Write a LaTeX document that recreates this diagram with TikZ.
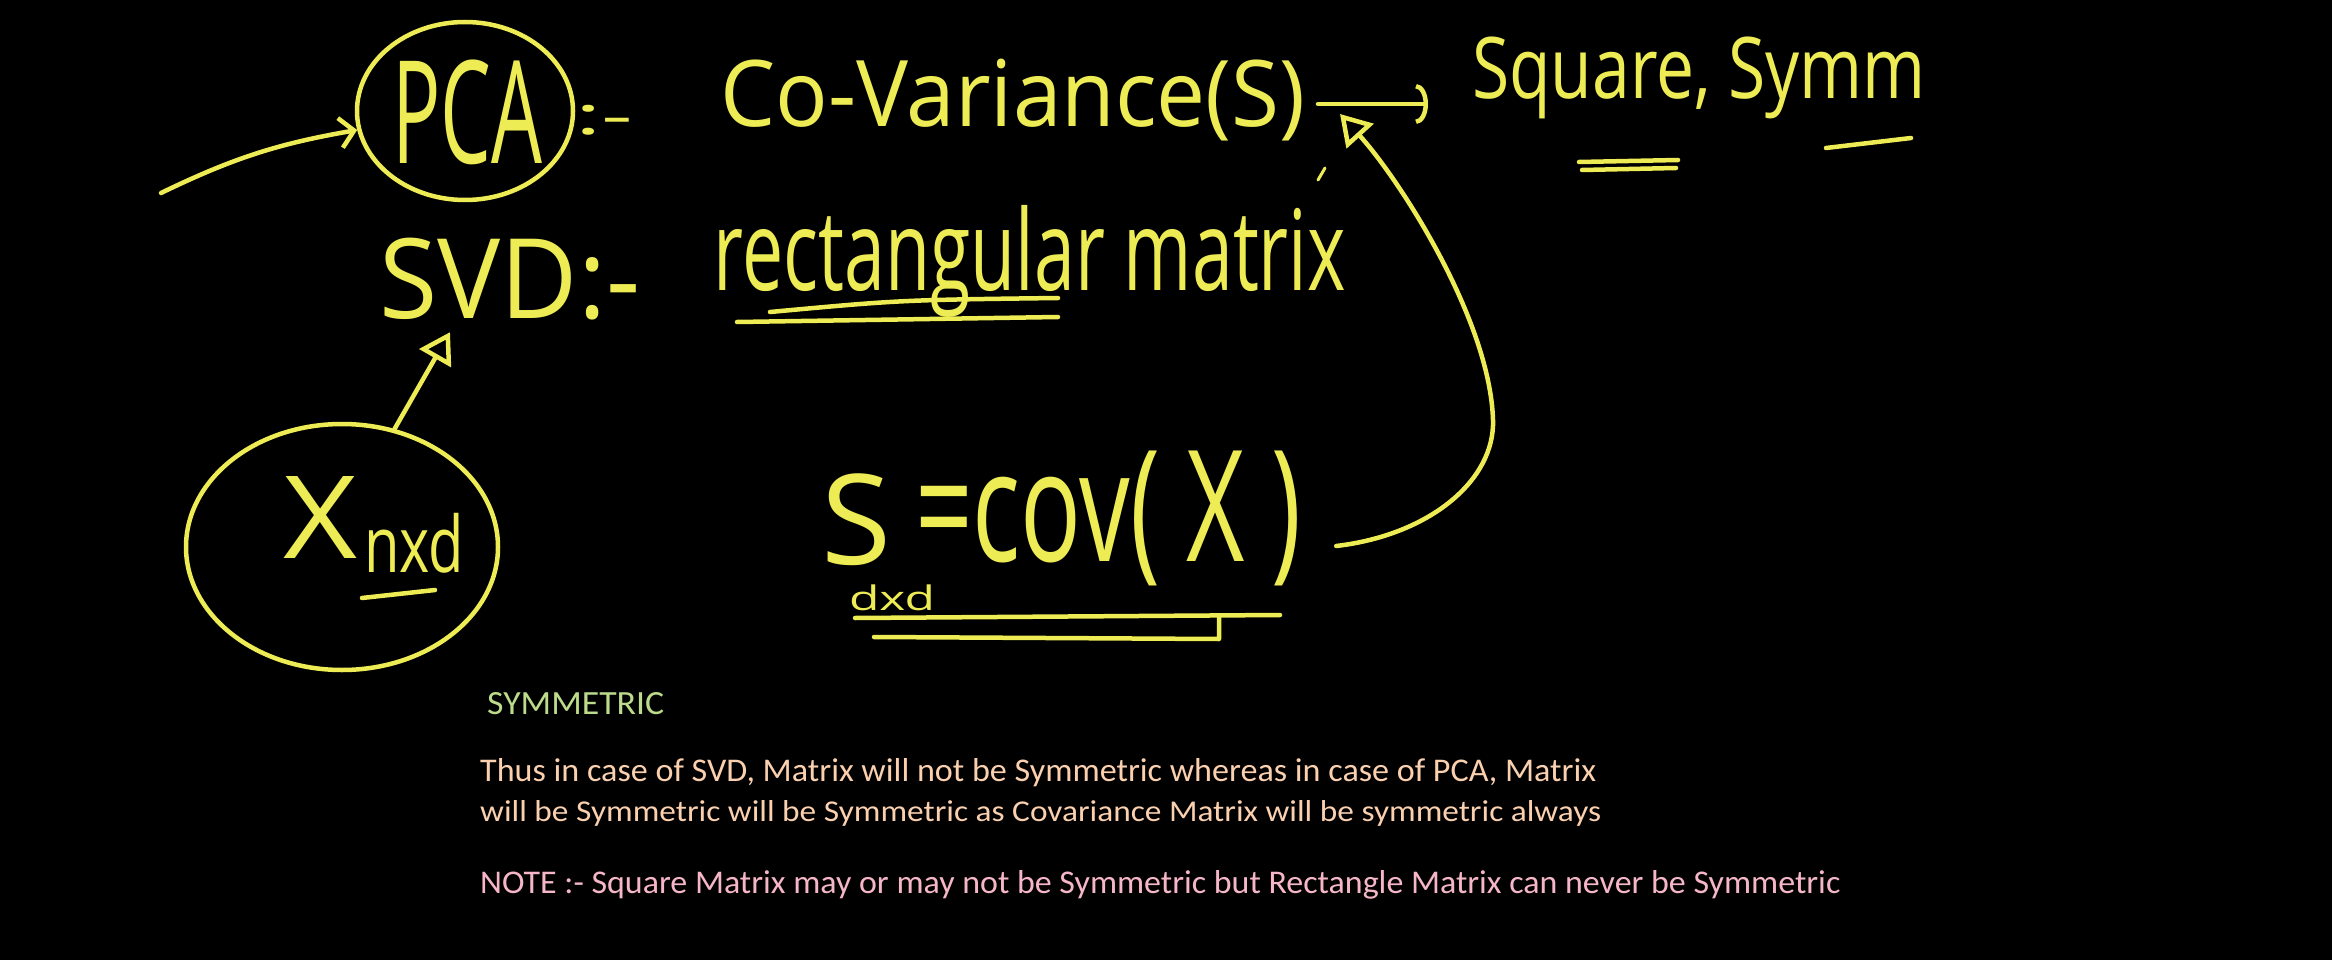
\documentclass[tikz,border=0pt]{standalone}
\usepackage{fontspec}
\usepackage{graphicx}
\setmainfont{Open Sans}
\newfontfamily\notefont{Carlito}
\usetikzlibrary{arrows.meta,shapes.geometric}
\definecolor{chalk}{RGB}{238,236,84}
\definecolor{peach}{RGB}{250,208,175}
\definecolor{pinknote}{RGB}{245,182,200}
\definecolor{greennote}{RGB}{188,220,140}
\newcommand{\fitbox}[3]{\resizebox*{#1}{#2}{#3}}
\begin{document}
\begin{tikzpicture}[x=1pt,y=-1pt,
 hw/.style={text=chalk, inner sep=0pt, font=\fontsize{40}{40}\selectfont},
 ink/.style={draw=chalk, line width=4.5pt, line cap=round, line join=round},
 ring/.style={ink, ellipse, inner sep=0pt},
 tri/.style={-{Triangle[open,length=30pt,width=36pt]}},
 note/.style={anchor=base west, inner sep=0pt, font=\notefont\fontsize{30}{30}\selectfont}]
\fill[black] (0,0) rectangle (2332,960);
\useasboundingbox (0,0) rectangle (2332,960);

% PCA line
\node[ring, minimum width=216pt, minimum height=178pt] (pca) at (465,111) {};
\node[hw] (pcatext) at (467,112) {\fitbox{150pt}{105pt}{PCA}};
\node[hw] (pcadash) at (604,120) {\fitbox{58pt}{30pt}{:-}};
\node[hw] (cov) at (1013,100) {\fitbox{585pt}{82pt}{Co-Variance(S)}};
\node[hw] (square) at (1699,78) {\fitbox{454pt}{82pt}{Square, Symm}};
\coordinate (arrs) at (1318,104);
\coordinate (arre) at (1428,104);
\draw[ink,-{Arc Barb[length=12pt,width=40pt]}] (arrs) -- (arre);
\coordinate (pcain) at (161,193);
\draw[ink,-{Straight Barb[length=14pt,width=30pt]}] (pcain) to[bend left=8] (pca.190);
\draw[ink] (1579,162) -- (1678,160);
\draw[ink] (1582,170) -- (1676,168);
\draw[ink] (1826,148) -- (1911,138);

% SVD line
\node[hw] (svd) at (510,279) {\fitbox{261pt}{82pt}{SVD:-}};
\node[hw] (rect) at (1030,261) {\fitbox{632pt}{112pt}{rectangular matrix}};
\draw[ink] (737,322) -- (1058,317);
\draw[ink] (770,312) .. controls (900,300) .. (1058,298);
\draw[ink, line width=3pt] (1325,168) -- (1318,180);

% X
\node[ring, minimum width=312pt, minimum height=246pt] (xc) at (342,547) {};
\node[hw] (xt) at (320,517) {\fitbox{74pt}{82pt}{X}};
\node[hw] (nxd) at (414,543) {\fitbox{100pt}{60pt}{nxd}};
\draw[ink] (362,598) -- (435,590);
\draw[ink,tri] (xc.66) -- ([shift={(-60,12)}]svd.south);

% S = cov(X)
\node[hw] (st) at (856,520) {\fitbox{70pt}{92pt}{S}};
\node[hw] (dxd) at (892,598) {\fitbox{86pt}{26pt}{dxd}};
\node[hw] (covx) at (1108,518) {\fitbox{386pt}{135pt}{=cov( X )}};
\draw[ink] (855,618) -- (1280,615);
\draw[ink] (874,637) -- (1219,639) -- (1219,616);
\coordinate (covtip) at (1340,114);
\draw[ink,tri] ([shift={(35,28)}]covx.east) .. controls (1430,535) and (1495,480) .. (1493,420)
   .. controls (1490,320) and (1400,180) .. (covtip);

% notes
\node[note, text=greennote] (sym) at (487,714) {\resizebox{177pt}{22pt}{SYMMETRIC}};
\node[note, text=peach] (l1) at (480,781) {\resizebox{1116pt}{23pt}{Thus in case of SVD, Matrix will not be Symmetric whereas in case of PCA, Matrix}};
\node[note, text=peach] (l2) at (480,821) {\resizebox{1121pt}{21pt}{will be Symmetric will be Symmetric as Covariance Matrix will be symmetric always}};
\node[note, text=pinknote] (nt) at (480,893) {\resizebox{1360pt}{23pt}{NOTE :- Square Matrix may or may not be Symmetric but Rectangle Matrix can never be Symmetric}};
\end{tikzpicture}
\end{document}
